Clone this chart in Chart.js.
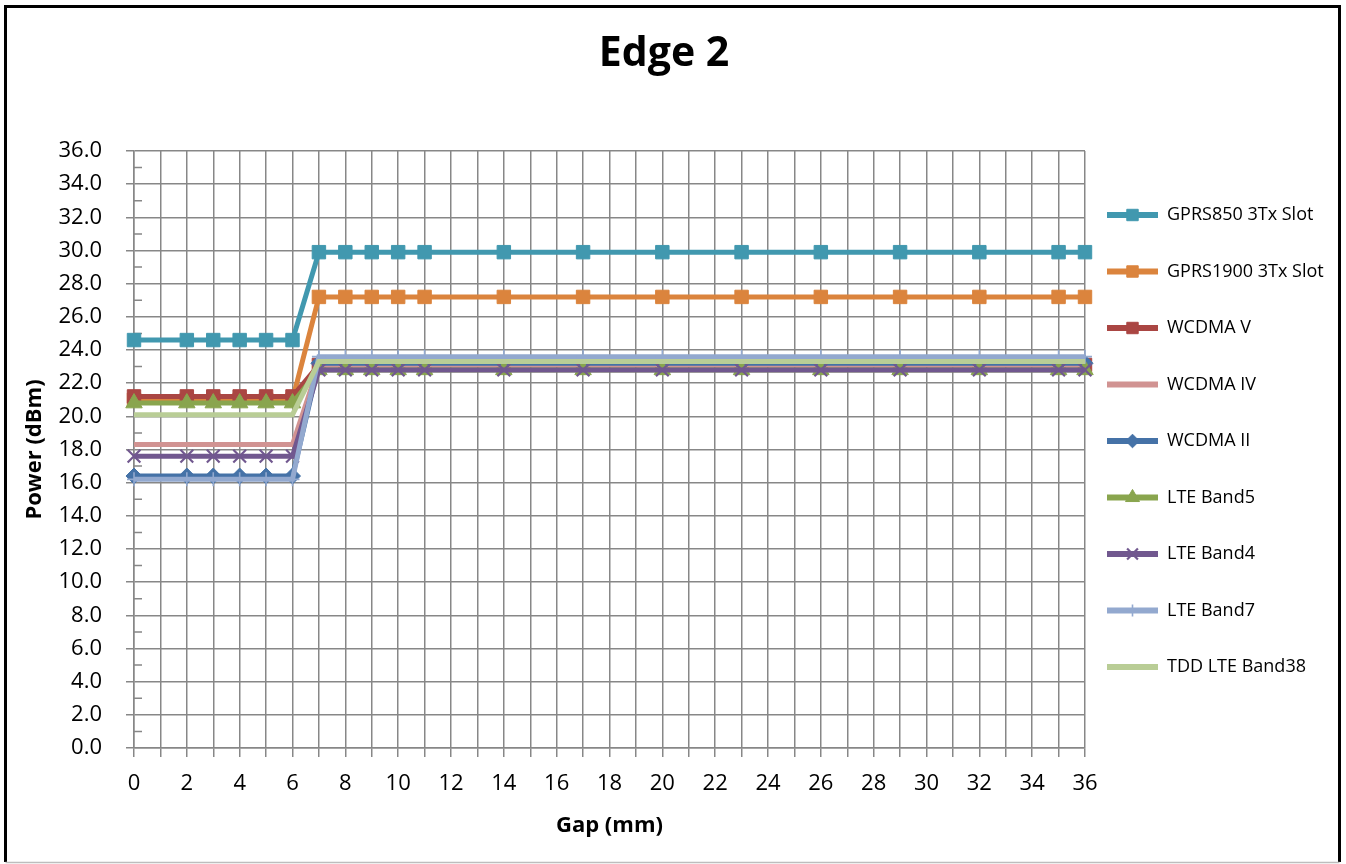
<!DOCTYPE html>
<html>
<head>
<meta charset="utf-8">
<script src="https://cdn.jsdelivr.net/npm/chart.js@4/dist/chart.umd.min.js"></script>
<style>
html,body{margin:0;padding:0;background:#fff;}
#wrap{position:relative;width:1346px;height:864px;}
</style>
</head>
<body>
<div id="wrap"><canvas id="c" width="1346" height="864"></canvas></div>
<script>
// ---- data ----
const gaps = [0, 2, 3, 4, 5, 6, 7, 8, 9, 10, 11, 14, 17, 20, 23, 26, 29, 32, 35, 36];
const xTickValues = [0, 2, 4, 6, 8, 10, 12, 14, 16, 18, 20, 22, 24, 26, 28, 30, 32, 34, 36];
const yTickValues = [0, 2, 4, 6, 8, 10, 12, 14, 16, 18, 20, 22, 24, 26, 28, 30, 32, 34, 36];
const seriesNames = ['GPRS850 3Tx Slot', 'GPRS1900 3Tx Slot', 'WCDMA V', 'WCDMA IV', 'WCDMA II', 'LTE Band5', 'LTE Band4', 'LTE Band7', 'TDD LTE Band38'];
const gprs850  = [24.6, 24.6, 24.6, 24.6, 24.6, 24.6, 29.9, 29.9, 29.9, 29.9, 29.9, 29.9, 29.9, 29.9, 29.9, 29.9, 29.9, 29.9, 29.9, 29.9];
const gprs1900 = [21.0, 21.0, 21.0, 21.0, 21.0, 21.0, 27.2, 27.2, 27.2, 27.2, 27.2, 27.2, 27.2, 27.2, 27.2, 27.2, 27.2, 27.2, 27.2, 27.2];
const wcdmaV   = [21.2, 21.2, 21.2, 21.2, 21.2, 21.2, 23.1, 23.1, 23.1, 23.1, 23.1, 23.1, 23.1, 23.1, 23.1, 23.1, 23.1, 23.1, 23.1, 23.1];
const wcdmaIV  = [18.3, 18.3, 18.3, 18.3, 18.3, 18.3, 23.1, 23.1, 23.1, 23.1, 23.1, 23.1, 23.1, 23.1, 23.1, 23.1, 23.1, 23.1, 23.1, 23.1];
const wcdmaII  = [16.4, 16.4, 16.4, 16.4, 16.4, 16.4, 23.2, 23.2, 23.2, 23.2, 23.2, 23.2, 23.2, 23.2, 23.2, 23.2, 23.2, 23.2, 23.2, 23.2];
const lteB5    = [20.8, 20.8, 20.8, 20.8, 20.8, 20.8, 22.8, 22.8, 22.8, 22.8, 22.8, 22.8, 22.8, 22.8, 22.8, 22.8, 22.8, 22.8, 22.8, 22.8];
const lteB4    = [17.6, 17.6, 17.6, 17.6, 17.6, 17.6, 22.8, 22.8, 22.8, 22.8, 22.8, 22.8, 22.8, 22.8, 22.8, 22.8, 22.8, 22.8, 22.8, 22.8];
const lteB7    = [16.2, 16.2, 16.2, 16.2, 16.2, 16.2, 23.6, 23.6, 23.6, 23.6, 23.6, 23.6, 23.6, 23.6, 23.6, 23.6, 23.6, 23.6, 23.6, 23.6];
const tdd38    = [20.1, 20.1, 20.1, 20.1, 20.1, 20.1, 23.3, 23.3, 23.3, 23.3, 23.3, 23.3, 23.3, 23.3, 23.3, 23.3, 23.3, 23.3, 23.3, 23.3];
const seriesValues = [gprs850, gprs1900, wcdmaV, wcdmaIV, wcdmaII, lteB5, lteB4, lteB7, tdd38];

// ---- styles ----
const FONT = "'Open Sans', 'Noto Sans', sans-serif";
const GRID = '#878787';
const colors = ['#4198AF', '#DB843D', '#AA4643', '#D19392', '#4572A7', '#89A54E', '#71588F', '#93A9CF', '#B9CD96'];
const markers = [
  {style: 'rect', r: 9.5, bw: 1},
  {style: 'rect', r: 9.5, bw: 1},
  {style: 'rect', r: 9.5, bw: 1},
  {style: false, r: 0, bw: 0},
  {style: 'rectRot', r: 8, bw: 1},
  {style: 'triangle', r: 9.5, bw: 1},
  {style: 'crossRot', r: 9, bw: 2.2},
  {style: 'cross', r: 7, bw: 1.6},
  {style: false, r: 0, bw: 0}
];

const datasets = seriesNames.map((name, i) => ({
  label: name,
  data: gaps.map((g, k) => ({x: g, y: seriesValues[i][k]})),
  borderColor: colors[i],
  backgroundColor: colors[i],
  borderWidth: 5,
  tension: 0,
  pointStyle: markers[i].style || 'circle',
  pointRadius: markers[i].style ? markers[i].r : 0,
  pointHoverRadius: markers[i].style ? markers[i].r : 0,
  pointBorderWidth: markers[i].bw,
  pointBackgroundColor: colors[i],
  pointBorderColor: colors[i],
  clip: false,
  order: seriesNames.length - i
}));

const deco = {
  id: 'deco',
  beforeDraw(chart) {
    const ctx = chart.ctx;
    ctx.save();
    ctx.fillStyle = '#fff';
    ctx.fillRect(0, 0, chart.width, chart.height);
    ctx.strokeStyle = '#000';
    ctx.lineWidth = 3;
    ctx.beginPath();
    ctx.moveTo(5.5, 862); ctx.lineTo(5.5, 6.5); ctx.lineTo(1339.5, 6.5); ctx.lineTo(1339.5, 862);
    ctx.stroke();
    ctx.strokeStyle = '#bdbdbd';
    ctx.lineWidth = 1.5;
    ctx.beginPath();
    ctx.moveTo(5.5, 862.5); ctx.lineTo(1339.5, 862.5);
    ctx.stroke();
    ctx.restore();
  },
  afterLayout(chart) {
    const lg = chart.legend;
    if (lg) {
      const p = lg.options.labels.padding;
      lg.left = 1107 - p;
      lg.right = 1346;
      lg.width = lg.right - lg.left;
      lg.top = 142.5;
      lg.bottom = 739.5;
      lg.height = lg.bottom - lg.top;
    }
    const tb = chart.titleBlock;
    if (tb) {
      tb.left -= 9;
      tb.right -= 9;
    }
  },
  beforeDatasetsDraw(chart) {
    const ctx = chart.ctx;
    const ys = chart.scales.y;
    const left = chart.chartArea.left;
    ctx.save();
    ctx.strokeStyle = GRID;
    ctx.lineWidth = 1.5;
    ctx.beginPath();
    for (let v = 1; v < 36; v += 2) {
      const py = ys.getPixelForValue(v);
      ctx.moveTo(left, py);
      ctx.lineTo(left + 8, py);
    }
    ctx.stroke();
    ctx.restore();
  },
  afterDraw(chart) {
    const lg = chart.legend;
    if (!lg || !lg.legendHitBoxes || !Chart.helpers || !Chart.helpers.drawPoint) return;
    const ctx = chart.ctx;
    const bw = lg.options.labels.boxWidth;
    lg.legendItems.forEach((item, i) => {
      const hb = lg.legendHitBoxes[i];
      const m = markers[item.datasetIndex];
      if (!hb || !m.style) return;
      const x = hb.left + bw / 2;
      const y = hb.top + hb.height / 2;
      ctx.save();
      ctx.fillStyle = colors[item.datasetIndex];
      ctx.strokeStyle = colors[item.datasetIndex];
      ctx.lineWidth = m.bw;
      Chart.helpers.drawPoint(ctx, {pointStyle: m.style, rotation: 0, radius: m.r * 0.85, borderWidth: m.bw}, x, y);
      ctx.restore();
    });
  }
};

Chart.defaults.font.family = FONT;
Chart.defaults.color = '#000';

new Chart(document.getElementById('c'), {
  type: 'line',
  data: {datasets},
  options: {
    responsive: false,
    animation: false,
    events: [],
    layout: {padding: {left: 10, right: 10, top: 10, bottom: 10}},
    plugins: {
      title: {
        display: true,
        text: 'Edge 2',
        color: '#000',
        font: {family: FONT, size: 41, weight: 'bold'},
        padding: {top: 20, bottom: 71.8}
      },
      legend: {
        display: true,
        position: 'right',
        fullSize: false,
        maxWidth: 251,
        labels: {
          boxWidth: 51,
          boxHeight: 6,
          padding: 38.5,
          color: '#000',
          font: {family: FONT, size: 18},
          sort: (a, b) => a.datasetIndex - b.datasetIndex,
          generateLabels: (chart) => {
            const items = Chart.defaults.plugins.legend.labels.generateLabels(chart);
            return items.map(it => Object.assign(it, {lineWidth: 0, fillStyle: colors[it.datasetIndex], strokeStyle: colors[it.datasetIndex]}));
          }
        }
      },
      tooltip: {enabled: false}
    },
    scales: {
      x: {
        type: 'linear',
        min: 0,
        max: 36,
        ticks: {
          stepSize: 1,
          autoSkip: false,
          maxTicksLimit: 100,
          maxRotation: 0,
          minRotation: 0,
          padding: 14,
          color: '#000',
          font: {family: FONT, size: 22},
          callback: (v) => xTickValues.includes(v) ? String(v) : ''
        },
        grid: {color: GRID, lineWidth: 1.5, tickLength: 9, tickColor: GRID},
        border: {color: GRID, width: 1.5},
        title: {
          display: true,
          text: 'Gap (mm)',
          color: '#000',
          font: {family: FONT, size: 22, weight: 'bold'},
          padding: {top: 0, bottom: 14.8}
        },
        afterFit: (s) => { s.height = 106; }
      },
      y: {
        type: 'linear',
        min: 0,
        max: 36,
        ticks: {
          stepSize: 1,
          autoSkip: false,
          maxTicksLimit: 100,
          padding: 24,
          color: '#000',
          font: {family: FONT, size: 22},
          callback: (v) => yTickValues.includes(v) ? v.toFixed(1) : ''
        },
        grid: {
          color: (c) => (c.tick && yTickValues.includes(c.tick.value)) ? GRID : 'rgba(0,0,0,0)',
          tickColor: (c) => (c.tick && yTickValues.includes(c.tick.value)) ? GRID : 'rgba(0,0,0,0)',
          lineWidth: 1.5,
          tickLength: 8
        },
        border: {color: GRID, width: 1.5},
        title: {
          display: true,
          text: 'Power (dBm)',
          color: '#000',
          font: {family: FONT, size: 22, weight: 'bold'},
          padding: {top: 12, bottom: 0}
        },
        afterFit: (s) => { s.width = 124; }
      }
    }
  },
  plugins: [deco]
});
</script>
</body>
</html>
